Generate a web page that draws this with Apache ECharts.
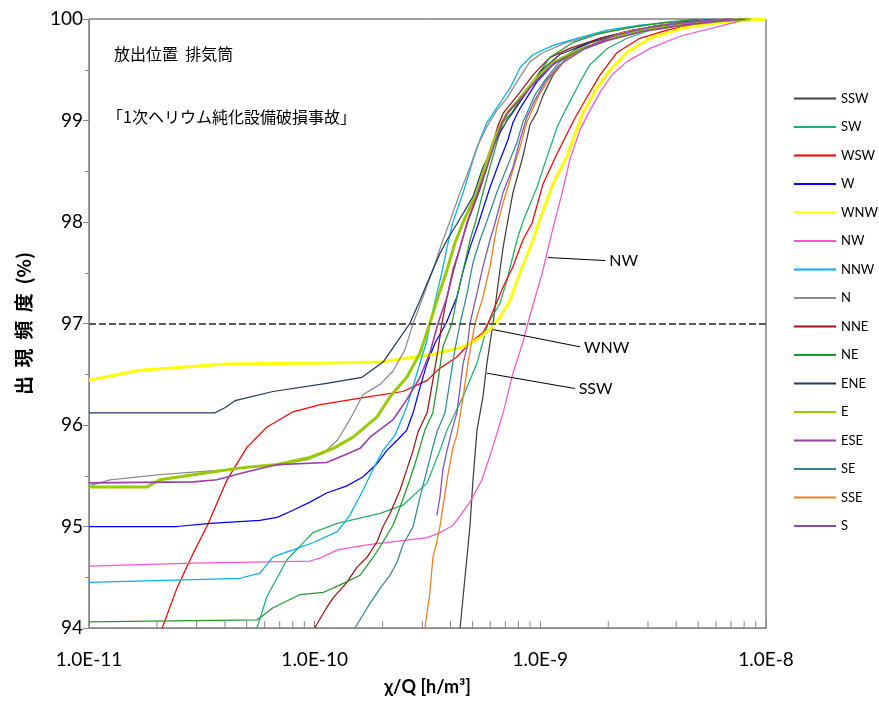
<!DOCTYPE html>
<html>
<head>
<meta charset="utf-8">
<script src="https://cdn.jsdelivr.net/npm/echarts@6.0.0/dist/echarts.min.js"></script>
<style>
  html, body { margin: 0; padding: 0; background: #fff; }
  #chart { width: 879px; height: 707px; }
</style>
</head>
<body>
<div id="chart"></div>
<script>
// Cumulative occurrence frequency (%) of χ/Q by wind direction sector
const directions = ['SSW','SW','WSW','W','WNW','NW','NNW','N','NNE','NE','ENE','E','ESE','SE','SSE','S'];

const SSW = [[4.41e-10,94.00],[4.88e-10,95.01],[5.03e-10,95.46],[5.24e-10,95.95],[5.57e-10,96.28],[5.80e-10,96.61],[6.17e-10,97.00],[6.47e-10,97.36],[6.84e-10,97.75],[7.12e-10,97.97],[7.56e-10,98.29],[8.36e-10,98.64],[9.00e-10,98.96],[9.65e-10,99.08],[1.03e-9,99.25],[1.14e-9,99.45],[1.31e-9,99.62],[1.66e-9,99.74],[2.25e-9,99.86],[3.39e-9,99.94],[5.10e-9,99.98],[6.91e-9,100]];
const SW = [[5.55e-11,94.00],[6.15e-11,94.31],[7.52e-11,94.67],[9.83e-11,94.94],[1.26e-10,95.03],[1.95e-10,95.13],[2.46e-10,95.21],[3.15e-10,95.43],[3.59e-10,95.75],[3.86e-10,95.95],[4.55e-10,96.28],[5.24e-10,96.61],[5.86e-10,97.00],[6.63e-10,97.20],[7.12e-10,97.43],[7.87e-10,97.82],[8.36e-10,98.00],[9.65e-10,98.34],[1.07e-9,98.64],[1.19e-9,98.94],[1.29e-9,99.10],[1.50e-9,99.38],[1.66e-9,99.55],[1.98e-9,99.71],[2.42e-9,99.81],[3.06e-9,99.89],[4.28e-9,99.94],[6.25e-9,99.98],[7.62e-9,100]];
const WSW = [[2.11e-11,94.00],[2.46e-11,94.40],[2.90e-11,94.74],[3.33e-11,95.00],[4.09e-11,95.46],[5.01e-11,95.78],[6.15e-11,95.98],[8.02e-11,96.13],[1.06e-10,96.20],[1.64e-10,96.27],[2.46e-10,96.33],[3.15e-10,96.44],[3.59e-10,96.56],[4.27e-10,96.67],[4.88e-10,96.81],[5.57e-10,96.91],[5.86e-10,97.00],[6.84e-10,97.36],[7.56e-10,97.56],[8.36e-10,97.82],[9.19e-10,97.99],[1.03e-9,98.38],[1.19e-9,98.68],[1.42e-9,99.02],[1.58e-9,99.20],[1.84e-9,99.45],[2.19e-9,99.67],[2.76e-9,99.81],[3.64e-9,99.89],[5.10e-9,99.96],[7.14e-9,99.99],[8.07e-9,100]];
const W = [[1.00e-11,95.00],[2.46e-11,95.00],[3.44e-11,95.03],[5.72e-11,95.06],[6.82e-11,95.09],[8.02e-11,95.16],[9.53e-11,95.24],[1.13e-10,95.33],[1.39e-10,95.40],[1.64e-10,95.49],[1.89e-10,95.62],[2.09e-10,95.75],[2.32e-10,95.85],[2.56e-10,95.95],[2.73e-10,96.12],[2.93e-10,96.37],[3.15e-10,96.61],[3.42e-10,96.81],[3.82e-10,97.00],[4.27e-10,97.26],[4.55e-10,97.52],[4.88e-10,97.75],[5.29e-10,97.97],[5.98e-10,98.34],[6.63e-10,98.61],[7.19e-10,98.81],[7.56e-10,98.98],[8.13e-10,99.12],[9.65e-10,99.38],[1.14e-9,99.55],[1.45e-9,99.71],[1.84e-9,99.81],[2.57e-9,99.89],[3.64e-9,99.94],[5.10e-9,99.98],[7.14e-9,100]];
const WNW = [[1.00e-11,96.44],[1.68e-11,96.54],[4.09e-11,96.60],[1.17e-10,96.61],[1.95e-10,96.62],[3.24e-10,96.69],[4.55e-10,96.77],[5.40e-10,96.86],[5.98e-10,96.94],[6.63e-10,97.06],[7.34e-10,97.23],[8.13e-10,97.50],[9.29e-10,97.82],[9.83e-10,97.99],[1.14e-9,98.38],[1.31e-9,98.64],[1.45e-9,98.91],[1.55e-9,99.08],[1.78e-9,99.32],[2.04e-9,99.50],[2.42e-9,99.67],[3.06e-9,99.81],[4.28e-9,99.91],[6.06e-9,99.96],[8.50e-9,99.99],[1.00e-8,100]];
const NW = [[1.00e-11,94.61],[2.90e-11,94.64],[9.53e-11,94.66],[1.06e-10,94.69],[1.26e-10,94.77],[1.71e-10,94.82],[3.15e-10,94.89],[3.59e-10,94.94],[4.10e-10,95.01],[4.88e-10,95.24],[5.51e-10,95.46],[6.09e-10,95.75],[6.84e-10,96.12],[7.56e-10,96.51],[8.36e-10,96.81],[8.79e-10,97.00],[1.02e-9,97.50],[1.14e-9,97.95],[1.25e-9,98.29],[1.35e-9,98.61],[1.50e-9,98.91],[1.66e-9,99.10],[1.84e-9,99.28],[2.08e-9,99.45],[2.42e-9,99.58],[3.06e-9,99.71],[4.16e-9,99.83],[6.25e-9,99.93],[7.62e-9,99.98],[8.50e-9,100]];
const NNW = [[1.00e-11,94.45],[4.67e-11,94.49],[5.72e-11,94.54],[6.54e-11,94.70],[8.02e-11,94.77],[9.83e-11,94.84],[1.26e-10,94.95],[1.43e-10,95.11],[1.64e-10,95.36],[1.81e-10,95.56],[2.01e-10,95.75],[2.27e-10,95.90],[2.56e-10,96.18],[2.84e-10,96.51],[3.15e-10,96.84],[3.24e-10,97.00],[3.45e-10,97.26],[3.66e-10,97.50],[3.86e-10,97.75],[4.10e-10,98.00],[4.55e-10,98.29],[5.03e-10,98.61],[5.40e-10,98.81],[5.80e-10,98.98],[6.30e-10,99.10],[7.34e-10,99.32],[8.13e-10,99.52],[9.29e-10,99.65],[1.14e-9,99.74],[1.45e-9,99.81],[1.98e-9,99.89],[2.76e-9,99.94],[3.87e-9,99.97],[5.47e-9,100]];
const N = [[1.00e-11,95.40],[1.24e-11,95.46],[2.06e-11,95.51],[4.09e-11,95.56],[6.82e-11,95.61],[9.35e-11,95.66],[1.09e-10,95.72],[1.26e-10,95.85],[1.43e-10,96.05],[1.64e-10,96.30],[1.95e-10,96.40],[2.22e-10,96.53],[2.51e-10,96.74],[2.73e-10,97.00],[3.02e-10,97.26],[3.34e-10,97.53],[3.70e-10,97.82],[3.98e-10,98.01],[4.41e-10,98.29],[4.88e-10,98.54],[5.24e-10,98.74],[5.80e-10,98.94],[6.41e-10,99.10],[7.12e-10,99.22],[7.87e-10,99.38],[9.00e-10,99.58],[1.03e-9,99.67],[1.31e-9,99.77],[1.71e-9,99.84],[2.42e-9,99.91],[3.39e-9,99.96],[4.74e-9,99.99],[6.71e-9,100]];
const NNE = [[1.00e-10,94.00],[1.13e-10,94.20],[1.21e-10,94.30],[1.39e-10,94.45],[1.54e-10,94.60],[1.71e-10,94.70],[1.89e-10,94.85],[2.01e-10,95.00],[2.16e-10,95.13],[2.39e-10,95.36],[2.56e-10,95.56],[2.73e-10,95.75],[2.87e-10,95.93],[3.15e-10,96.12],[3.34e-10,96.44],[3.52e-10,96.74],[3.66e-10,97.00],[3.86e-10,97.26],[4.10e-10,97.53],[4.41e-10,97.75],[4.78e-10,98.01],[5.40e-10,98.32],[5.80e-10,98.54],[6.17e-10,98.78],[6.47e-10,98.94],[6.84e-10,99.07],[8.13e-10,99.28],[9.29e-10,99.45],[1.10e-9,99.62],[1.35e-9,99.71],[1.84e-9,99.81],[2.57e-9,99.89],[3.64e-9,99.94],[5.10e-9,99.98],[7.14e-9,100]];
const NE = [[1.00e-11,94.06],[5.55e-11,94.08],[6.54e-11,94.20],[8.62e-11,94.33],[1.09e-10,94.35],[1.34e-10,94.44],[1.59e-10,94.52],[1.81e-10,94.69],[2.01e-10,94.85],[2.22e-10,95.01],[2.39e-10,95.19],[2.64e-10,95.46],[2.84e-10,95.68],[3.08e-10,95.95],[3.34e-10,96.12],[3.52e-10,96.44],[3.70e-10,96.77],[4.06e-10,97.00],[4.27e-10,97.26],[4.55e-10,97.52],[4.88e-10,97.82],[5.19e-10,98.02],[5.57e-10,98.29],[5.98e-10,98.54],[6.41e-10,98.78],[6.84e-10,98.98],[7.49e-10,99.08],[9.29e-10,99.38],[1.10e-9,99.62],[1.40e-9,99.77],[1.84e-9,99.86],[2.57e-9,99.92],[3.64e-9,99.97],[5.10e-9,100]];
const ENE = [[1.00e-11,96.12],[3.62e-11,96.12],[4.00e-11,96.17],[4.44e-11,96.24],[6.54e-11,96.33],[1.13e-10,96.41],[1.62e-10,96.47],[2.01e-10,96.62],[2.27e-10,96.79],[2.64e-10,97.00],[2.93e-10,97.23],[3.24e-10,97.46],[3.59e-10,97.69],[3.90e-10,97.84],[4.32e-10,98.00],[5.03e-10,98.25],[5.57e-10,98.54],[5.98e-10,98.68],[6.63e-10,98.88],[7.12e-10,99.00],[7.56e-10,99.08],[8.71e-10,99.28],[9.97e-10,99.48],[1.22e-9,99.65],[1.61e-9,99.76],[2.19e-9,99.84],[3.06e-9,99.92],[4.28e-9,99.97],[6.06e-9,100]];
const E = [[1.00e-11,95.39],[1.81e-11,95.39],[2.06e-11,95.46],[2.90e-11,95.51],[4.82e-11,95.58],[6.82e-11,95.61],[9.53e-11,95.68],[1.21e-10,95.77],[1.48e-10,95.88],[1.89e-10,96.08],[2.16e-10,96.28],[2.56e-10,96.47],[2.93e-10,96.71],[3.24e-10,97.00],[3.52e-10,97.26],[3.86e-10,97.53],[4.18e-10,97.79],[4.55e-10,98.00],[5.24e-10,98.29],[5.69e-10,98.54],[6.17e-10,98.78],[6.63e-10,98.94],[7.12e-10,99.07],[8.13e-10,99.22],[9.46e-10,99.40],[1.14e-9,99.57],[1.45e-9,99.69],[1.94e-9,99.79],[2.76e-9,99.88],[4.16e-9,99.94],[6.25e-9,99.98],[8.50e-9,100]];
const ESE = [[1.00e-11,95.43],[2.90e-11,95.44],[3.69e-11,95.46],[4.82e-11,95.53],[6.82e-11,95.61],[1.13e-10,95.63],[1.34e-10,95.70],[1.59e-10,95.77],[1.76e-10,95.88],[2.22e-10,96.05],[2.56e-10,96.25],[2.93e-10,96.47],[3.24e-10,96.71],[3.52e-10,97.00],[3.86e-10,97.26],[4.10e-10,97.50],[4.41e-10,97.75],[4.74e-10,98.00],[5.29e-10,98.29],[5.80e-10,98.54],[6.30e-10,98.78],[6.77e-10,98.98],[7.19e-10,99.08],[8.28e-10,99.23],[9.65e-10,99.40],[1.16e-9,99.57],[1.50e-9,99.69],[1.99e-9,99.79],[2.85e-9,99.88],[4.28e-9,99.94],[6.25e-9,99.98],[8.07e-9,100]];
const SE = [[1.51e-10,94.00],[1.71e-10,94.20],[1.95e-10,94.39],[2.16e-10,94.52],[2.32e-10,94.65],[2.46e-10,94.82],[2.73e-10,95.00],[2.93e-10,95.29],[3.15e-10,95.56],[3.31e-10,95.75],[3.48e-10,95.93],[3.78e-10,96.12],[3.98e-10,96.44],[4.18e-10,96.74],[4.41e-10,97.00],[4.74e-10,97.30],[5.03e-10,97.60],[5.40e-10,97.82],[5.80e-10,98.01],[6.41e-10,98.29],[7.12e-10,98.54],[7.87e-10,98.78],[8.36e-10,98.98],[8.71e-10,99.07],[9.46e-10,99.25],[1.05e-9,99.40],[1.22e-9,99.58],[1.58e-9,99.72],[2.14e-9,99.84],[3.22e-9,99.93],[5.10e-9,99.98],[6.91e-9,100]];
const SSE = [[3.08e-10,94.00],[3.24e-10,94.35],[3.34e-10,94.69],[3.48e-10,94.85],[3.59e-10,95.00],[3.86e-10,95.46],[4.10e-10,95.78],[4.27e-10,95.90],[4.55e-10,96.28],[4.78e-10,96.61],[5.03e-10,96.89],[5.13e-10,97.00],[5.57e-10,97.26],[5.98e-10,97.56],[6.41e-10,97.95],[6.84e-10,98.19],[7.56e-10,98.51],[8.13e-10,98.74],[8.71e-10,98.98],[9.19e-10,99.10],[9.86e-10,99.25],[1.10e-9,99.42],[1.29e-9,99.60],[1.66e-9,99.74],[2.25e-9,99.86],[3.39e-9,99.94],[5.10e-9,99.98],[6.58e-9,100]];
const S = [[3.48e-10,95.11],[3.59e-10,95.29],[3.70e-10,95.56],[3.86e-10,95.75],[4.06e-10,95.95],[4.27e-10,96.12],[4.55e-10,96.61],[4.74e-10,96.77],[4.88e-10,97.00],[5.24e-10,97.30],[5.57e-10,97.56],[5.98e-10,97.82],[6.30e-10,97.99],[6.84e-10,98.29],[7.56e-10,98.54],[8.13e-10,98.81],[8.71e-10,99.03],[9.46e-10,99.20],[1.05e-9,99.38],[1.22e-9,99.55],[1.58e-9,99.71],[2.14e-9,99.84],[3.22e-9,99.93],[5.10e-9,99.98],[6.91e-9,100]];

const yTicks = [94, 95, 96, 97, 98, 99, 100];
const referenceLevel = 97;

const sectorData = { SSW, SW, WSW, W, WNW, NW, NNW, N, NNE, NE, ENE, E, ESE, SE, SSE, S };

const sectorColor = {
  SSW: '#404040', SW: '#1DB26A', WSW: '#FF0000', W: '#0000FF',
  WNW: '#FFFF00', NW: '#FF55CC', NNW: '#00B0F0', N: '#8C8C8C',
  NNE: '#9E1414', NE: '#1F9A2A', ENE: '#1F3864', E: '#99CC00',
  ESE: '#9B3FA6', SE: '#2E8B94', SSE: '#F57A18', S: '#7E50B8'
};
const sectorWidth = { WNW: 3, E: 3, ESE: 1.6 };

// minor log ticks (2..9 within each decade) along the bottom axis
const xMinorTicks = [];
for (let e = -11; e < -8; e++) {
  for (let m = 2; m <= 9; m++) xMinorTicks.push([m * Math.pow(10, e), 94]);
}

const baseFont = 'Lato, "Noto Sans CJK JP", sans-serif';
const jpFont = '"Noto Sans CJK JP", sans-serif';

// leader lines with their labels, in data coordinates
const callouts = {
  NW:  [[1.08e-9, 97.65], [1.94e-9, 97.62]],
  WNW: [[6.17e-10, 96.94], [1.50e-9, 96.77]],
  SSW: [[5.80e-10, 96.51], [1.42e-9, 96.36]]
};

const series = directions.map(name => {
  const s = {
    name,
    type: 'line',
    data: sectorData[name],
    symbol: 'none',
    showSymbol: false,
    clip: true,
    lineStyle: { color: sectorColor[name], width: sectorWidth[name] || 1.25 },
    itemStyle: { color: sectorColor[name] },
    emphasis: { disabled: true },
    animation: false
  };
  if (callouts[name]) {
    const c = callouts[name];
    s.markLine = {
      silent: true,
      symbol: ['none', 'none'],
      animation: false,
      lineStyle: { color: '#000', width: 1, type: 'solid' },
      label: {
        show: true, position: 'end', formatter: name, distance: 4,
        color: '#000', fontSize: 16, fontFamily: baseFont
      },
      data: [[{ coord: c[0] }, { coord: c[1] }]]
    };
  }
  return s;
});

// dashed reference level at 97 %
series.push({
  name: 'ref',
  type: 'line',
  data: [],
  silent: true,
  z: 1,
  markLine: {
    silent: true,
    symbol: ['none', 'none'],
    animation: false,
    label: { show: false },
    lineStyle: { color: '#595959', width: 2, type: [7, 3] },
    data: [{ yAxis: referenceLevel }]
  }
});

// minor ticks of the logarithmic axis
series.push({
  name: 'minorTicks',
  type: 'custom',
  silent: true,
  clip: false,
  z: 5,
  data: xMinorTicks,
  renderItem: (params, api) => {
    const p = api.coord([api.value(0), api.value(1)]);
    return {
      type: 'line',
      shape: { x1: p[0], y1: p[1], x2: p[0], y2: p[1] - 7 },
      style: { stroke: '#868686', lineWidth: 1 }
    };
  }
});

const chart = echarts.init(document.getElementById('chart'), null, { renderer: 'canvas' });
chart.setOption({
  animation: false,
  backgroundColor: '#ffffff',
  title: [
    {
      text: '放出位置  排気筒', left: 114, top: 46, padding: 0,
      textStyle: { fontSize: 16, fontWeight: 'normal', color: '#000', fontFamily: jpFont }
    },
    {
      text: '「1次ヘリウム純化設備破損事故」', left: 107, top: 109, padding: 0,
      textStyle: { fontSize: 16, fontWeight: 'normal', color: '#000', fontFamily: jpFont }
    }
  ],
  legend: {
    orient: 'vertical',
    left: 793,
    top: 92,
    itemWidth: 42,
    itemHeight: 14,
    itemGap: 15.5,
    padding: 0,
    data: directions,
    itemStyle: { opacity: 0 },
    textStyle: { color: '#000', fontSize: 13, fontFamily: baseFont },
    selectedMode: false
  },
  grid: {
    left: 89, right: 113, top: 19, bottom: 79,
    show: true, borderColor: '#404040', borderWidth: 1,
    outerBoundsMode: 'none'
  },
  xAxis: {
    type: 'log',
    logBase: 10,
    min: 1e-11,
    max: 1e-8,
    name: 'χ/Q [h/m³]',
    nameLocation: 'middle',
    nameGap: 50,
    nameTextStyle: { fontSize: 18, fontWeight: 'bold', color: '#000', fontFamily: baseFont },
    axisLine: { show: true, lineStyle: { color: '#868686', width: 1 } },
    axisTick: { show: true, inside: true, length: 7, lineStyle: { color: '#868686' } },
    axisLabel: {
      show: true, margin: 22, color: '#000', fontSize: 19, fontFamily: baseFont,
      formatter: v => Number(v).toExponential(1).toUpperCase()
    },
    splitLine: { show: false },
    minorTick: { show: false },
    minorSplitLine: { show: false }
  },
  yAxis: {
    type: 'value',
    min: yTicks[0],
    max: yTicks[yTicks.length - 1],
    interval: 1,
    name: '出  現  頻  度  (%)',
    nameLocation: 'middle',
    nameRotate: 90,
    nameGap: 56,
    nameTextStyle: { fontSize: 19, fontWeight: 'bold', color: '#000', fontFamily: jpFont },
    axisLine: { show: true, lineStyle: { color: '#868686', width: 1 } },
    axisTick: { show: true, inside: false, length: 6, lineStyle: { color: '#868686' } },
    minorTick: { show: true, splitNumber: 2, length: 4, lineStyle: { color: '#868686' } },
    axisLabel: { show: true, margin: 6, color: '#000', fontSize: 19, fontFamily: baseFont },
    splitLine: { show: false }
  },
  tooltip: { show: false },
  series
});
</script>
</body>
</html>
